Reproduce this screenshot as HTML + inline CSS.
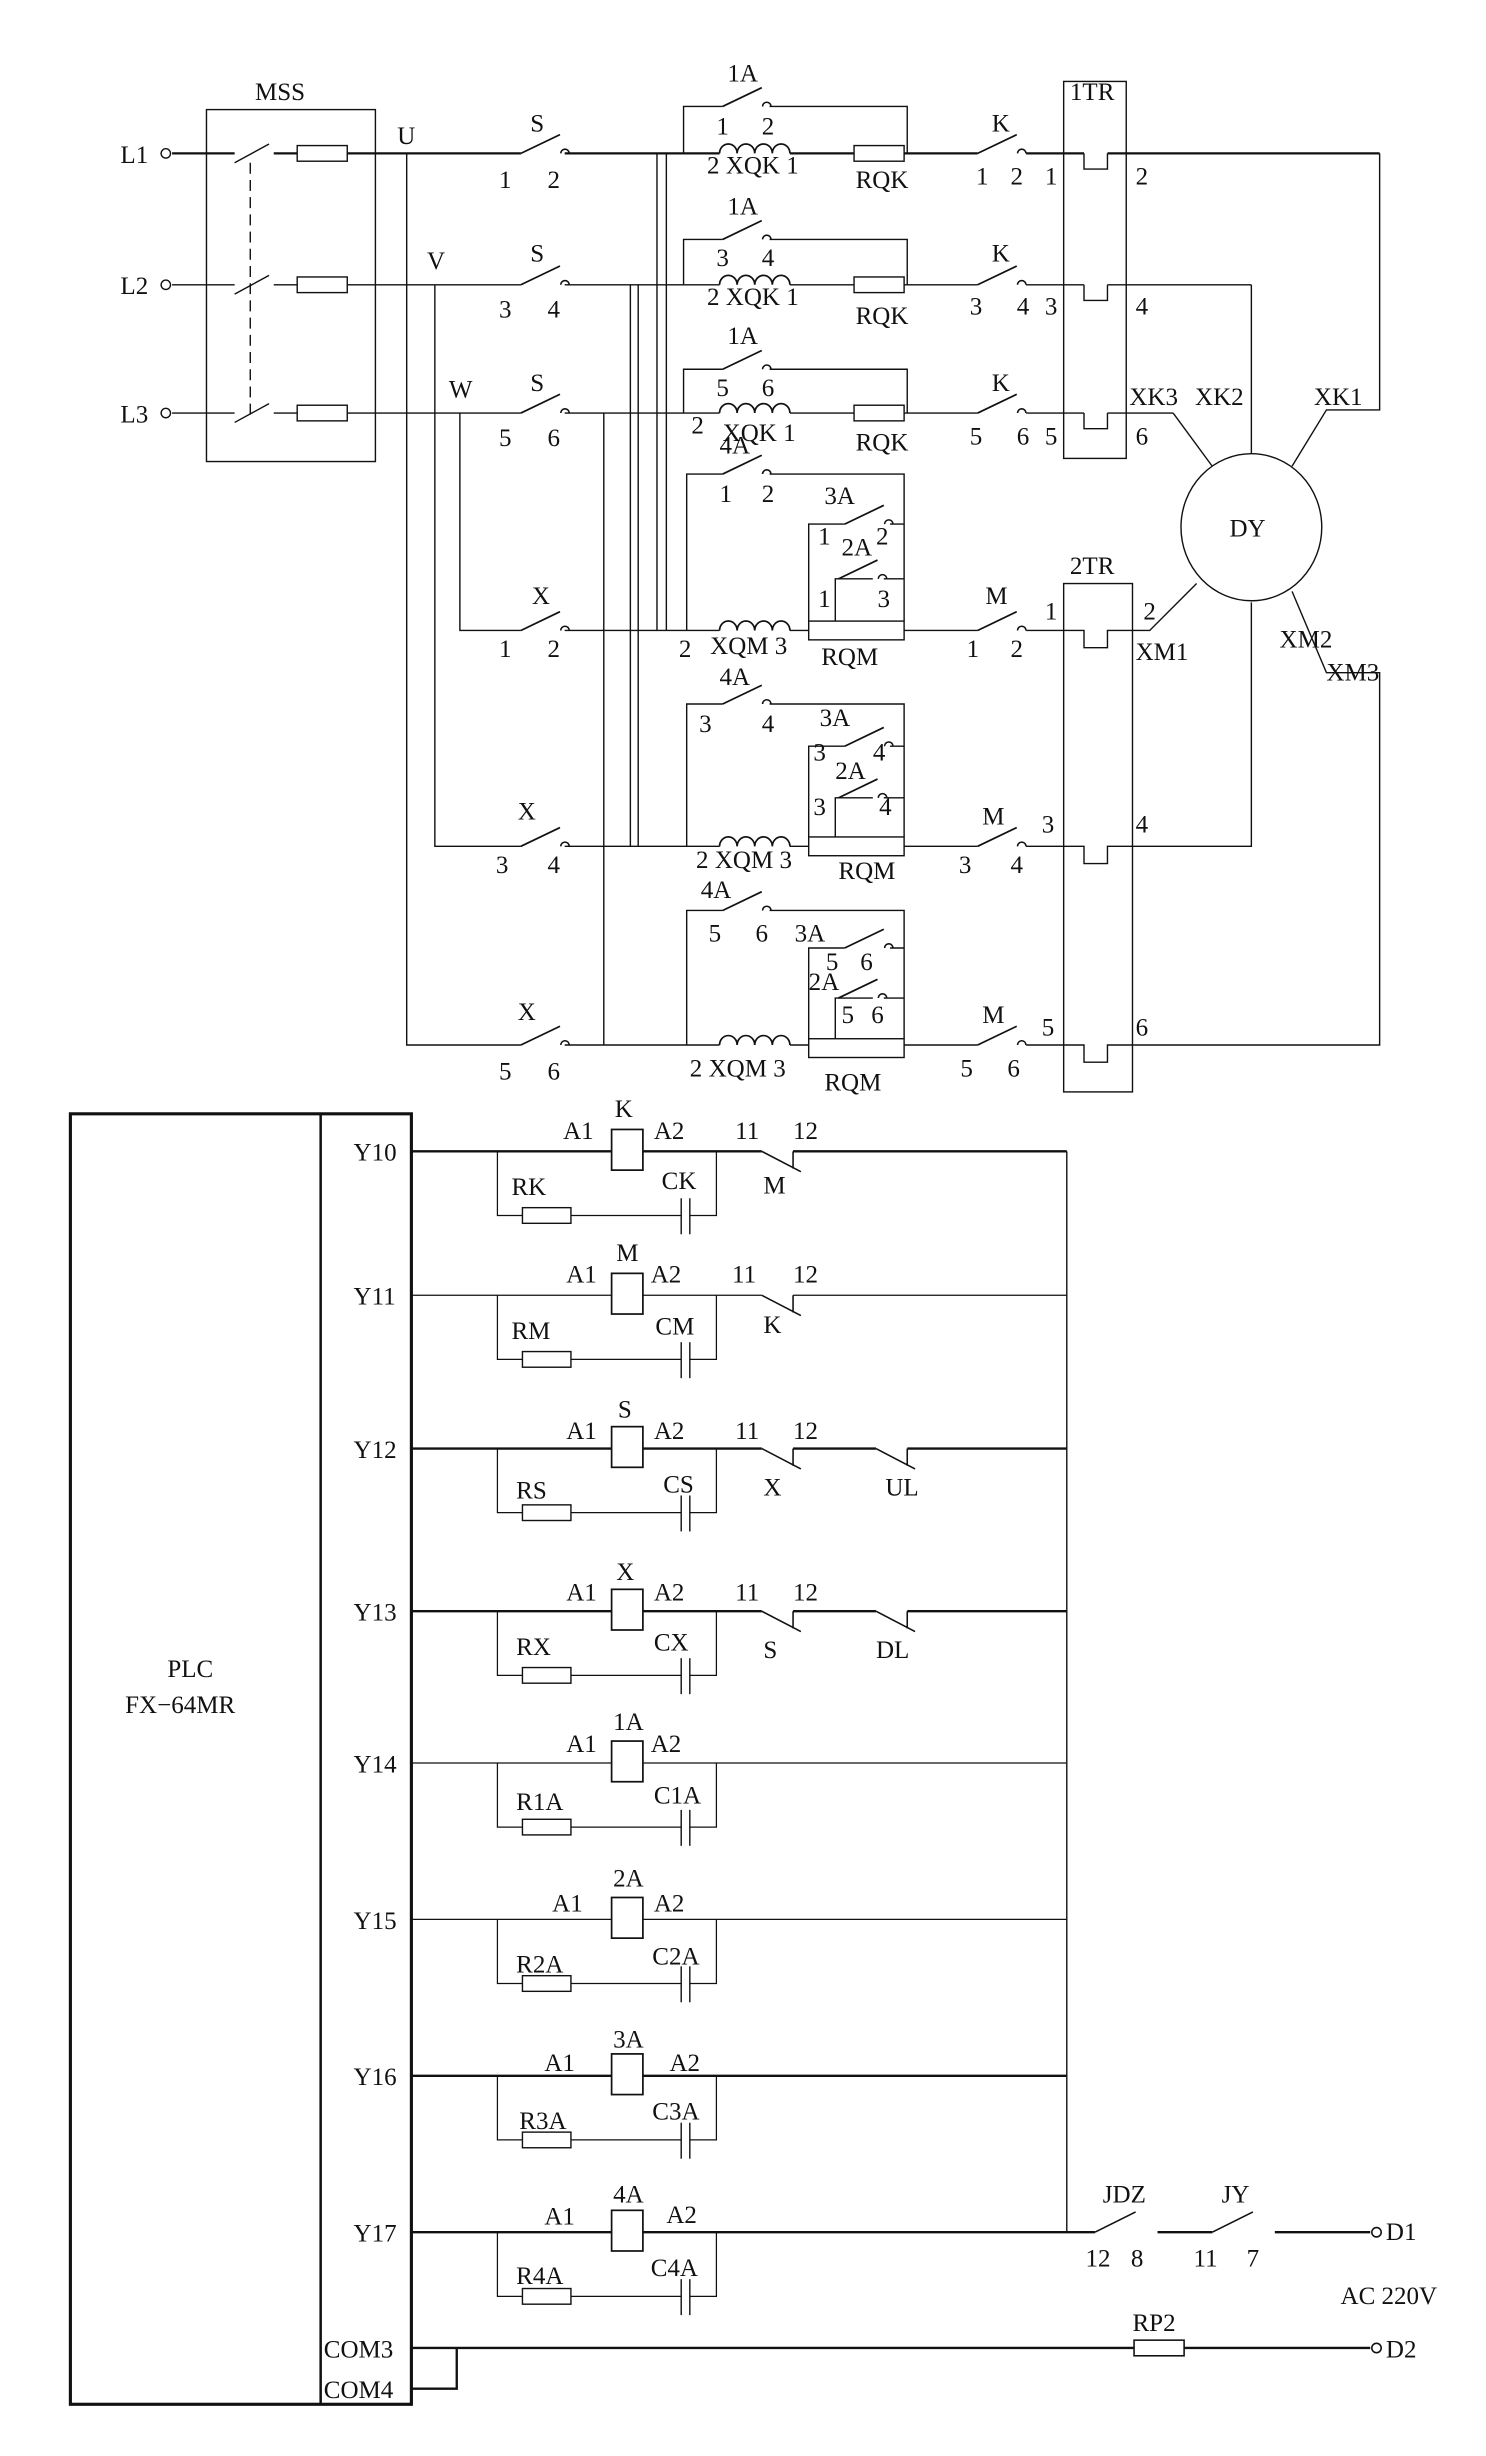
<!DOCTYPE html>
<html><head><meta charset="utf-8"><style>
html,body{margin:0;padding:0;background:#fff;}
svg{display:block;}
text{font-family:"Liberation Serif",serif;font-size:16px;fill:#111;}
</style></head><body>
<svg width="1486" height="2456" viewBox="0 0 950 1570" xmlns="http://www.w3.org/2000/svg">
<defs>
<g id="sw"><line x1="0" y1="0" x2="25" y2="-12" stroke="#111" stroke-width="1.1"/><path d="M25.5,0 a2.7,2.7 0 0 1 5.4,0" fill="none" stroke="#111" stroke-width="1"/></g>
<g id="coil"><path d="M0,0 a5.6,6 0 0 1 11.25,0 a5.6,6 0 0 1 11.25,0 a5.6,6 0 0 1 11.25,0 a5.6,6 0 0 1 11.25,0" fill="none" stroke="#111" stroke-width="1.1"/></g>
<g id="nc"><line x1="0" y1="0" x2="25" y2="13" stroke="#111" stroke-width="1"/><line x1="20" y1="0" x2="20" y2="11" stroke="#111" stroke-width="1"/></g>
<g id="rc"><path d="M318,0 V41 H334 M365,41 H435.5 M441,41 H458 V0" fill="none" stroke="#111" stroke-width="0.8"/><rect x="334" y="36" width="31" height="10" fill="#fff" stroke="#111" stroke-width="0.9"/><line x1="435.5" y1="30" x2="435.5" y2="53" stroke="#111" stroke-width="0.9"/><line x1="441" y1="30" x2="441" y2="53" stroke="#111" stroke-width="0.9"/><rect x="391" y="-14" width="20" height="26" fill="#fff" stroke="#111" stroke-width="1.1"/></g>
</defs>
<g fill="none" stroke="#111" stroke-width="0.9">
<rect x="132" y="70" width="108" height="225"/>
<line x1="160" y1="104" x2="160" y2="268" stroke-dasharray="7,4"/>
<g stroke-width="1.5"><line x1="110" y1="98" x2="150" y2="98"/><line x1="175" y1="98" x2="190" y2="98"/><line x1="222" y1="98" x2="333" y2="98"/><line x1="361" y1="98" x2="460" y2="98"/><line x1="505" y1="98" x2="546" y2="98"/><line x1="578" y1="98" x2="625" y2="98"/><line x1="656" y1="98" x2="693" y2="98"/><line x1="708" y1="98" x2="882" y2="98"/></g>
<line x1="110" y1="182" x2="150" y2="182"/><line x1="175" y1="182" x2="190" y2="182"/><line x1="222" y1="182" x2="333" y2="182"/><line x1="361" y1="182" x2="460" y2="182"/><line x1="505" y1="182" x2="546" y2="182"/><line x1="578" y1="182" x2="625" y2="182"/><line x1="656" y1="182" x2="693" y2="182"/><line x1="708" y1="182" x2="800" y2="182"/>
<line x1="110" y1="264" x2="150" y2="264"/><line x1="175" y1="264" x2="190" y2="264"/><line x1="222" y1="264" x2="333" y2="264"/><line x1="361" y1="264" x2="460" y2="264"/><line x1="505" y1="264" x2="546" y2="264"/><line x1="578" y1="264" x2="625" y2="264"/><line x1="656" y1="264" x2="693" y2="264"/><line x1="708" y1="264" x2="750" y2="264"/>
<circle cx="106" cy="98" r="3"/><circle cx="106" cy="182" r="3"/><circle cx="106" cy="264" r="3"/>
<line x1="150" y1="104" x2="172" y2="92"/><line x1="150" y1="188" x2="172" y2="176"/><line x1="150" y1="270" x2="172" y2="258"/>
<rect x="190" y="93" width="32" height="10"/><rect x="190" y="177" width="32" height="10"/><rect x="190" y="259" width="32" height="10"/>
<path d="M437,98 V68 H462 M492,68 H580 V98"/><path d="M437,182 V153 H462 M492,153 H580 V182"/><path d="M437,264 V236 H462 M492,236 H580 V264"/>
<rect x="546" y="93" width="32" height="10" fill="#fff"/><rect x="546" y="177" width="32" height="10" fill="#fff"/><rect x="546" y="259" width="32" height="10" fill="#fff"/>
<rect x="680" y="52" width="40" height="241"/>
<path d="M693,98 V108 H708 V98"/><path d="M693,182 V192 H708 V182"/><path d="M693,264 V274 H708 V264"/>
<ellipse cx="800" cy="337" rx="45" ry="47"/>
<path d="M882,98 V262 H848 L826,298"/><line x1="800" y1="182" x2="800" y2="290"/><path d="M750,264 L775,298"/>
<path d="M260,98 V668 H333"/><path d="M278,182 V541 H333"/><path d="M294,264 V403 H333"/>
<line x1="386" y1="264" x2="386" y2="668"/><line x1="403" y1="182" x2="403" y2="541"/><line x1="408" y1="182" x2="408" y2="541"/><line x1="420" y1="98" x2="420" y2="403"/><line x1="426" y1="98" x2="426" y2="403"/>
<path d="M361,403 H460 M505,403 H517 M578,403 H625 M656,403 H693 V414 H708 V403 H735 L765,373"/>
<path d="M439,403 V303 H462 M492,303 H578 V397"/>
<path d="M517,397 V335 H540 M569,335 H578"/>
<path d="M534,397 V370 H558 M565,370 H578"/>
<rect x="517" y="397" width="61" height="12" fill="#fff"/>
<path d="M361,541 H460 M505,541 H517 M578,541 H625 M656,541 H693 V552 H708 V541 H800 V385"/>
<path d="M439,541 V450 H462 M492,450 H578 V535"/>
<path d="M517,535 V477 H540 M569,477 H578"/>
<path d="M534,535 V510 H558 M565,510 H578"/>
<rect x="517" y="535" width="61" height="12" fill="#fff"/>
<path d="M361,668 H460 M505,668 H517 M578,668 H625 M656,668 H693 V679 H708 V668 H882 V430 H848 L826,378"/>
<path d="M439,668 V582 H462 M492,582 H578 V664"/>
<path d="M517,664 V606 H540 M569,606 H578"/>
<path d="M534,664 V638 H558 M565,638 H578"/>
<rect x="517" y="664" width="61" height="12" fill="#fff"/>
<rect x="680" y="373" width="44" height="325"/>
</g>
<g>
<use href="#sw" x="333" y="98"/><use href="#sw" x="333" y="182"/><use href="#sw" x="333" y="264"/>
<use href="#sw" x="462" y="68"/><use href="#sw" x="462" y="153"/><use href="#sw" x="462" y="236"/>
<use href="#sw" x="625" y="98"/><use href="#sw" x="625" y="182"/><use href="#sw" x="625" y="264"/>
<use href="#sw" x="333" y="403"/><use href="#sw" x="333" y="541"/><use href="#sw" x="333" y="668"/>
<use href="#sw" x="625" y="403"/><use href="#sw" x="625" y="541"/><use href="#sw" x="625" y="668"/>
<use href="#sw" x="462" y="303"/><use href="#sw" x="462" y="450"/><use href="#sw" x="462" y="582"/>
<use href="#sw" x="540" y="335"/><use href="#sw" x="540" y="477"/><use href="#sw" x="540" y="606"/>
<use href="#sw" x="536" y="370"/><use href="#sw" x="536" y="510"/><use href="#sw" x="536" y="638"/>
<use href="#coil" x="460" y="98"/><use href="#coil" x="460" y="182"/><use href="#coil" x="460" y="264"/>
<use href="#coil" x="460" y="403"/><use href="#coil" x="460" y="541"/><use href="#coil" x="460" y="668"/>
</g>
<text x="163" y="64">MSS</text><text x="684" y="64">1TR</text><text x="684" y="367">2TR</text>
<text x="77" y="104">L1</text><text x="77" y="188">L2</text><text x="77" y="270">L3</text>
<text x="254" y="92">U</text><text x="273" y="172">V</text><text x="287" y="254">W</text>
<text x="339" y="84">S</text><text x="319" y="120">1</text><text x="350" y="120">2</text>
<text x="339" y="167">S</text><text x="319" y="203">3</text><text x="350" y="203">4</text>
<text x="339" y="250">S</text><text x="319" y="285">5</text><text x="350" y="285">6</text>
<text x="465" y="52">1A</text><text x="458" y="86">1</text><text x="487" y="86">2</text><text x="452" y="111">2 XQK 1</text><text x="547" y="120">RQK</text>
<text x="465" y="137">1A</text><text x="458" y="170">3</text><text x="487" y="170">4</text><text x="452" y="195">2 XQK 1</text><text x="547" y="207">RQK</text>
<text x="465" y="220">1A</text><text x="458" y="253">5</text><text x="487" y="253">6</text><text x="442" y="277">2</text><text x="462" y="282">XQK 1</text><text x="547" y="288">RQK</text>
<text x="634" y="84">K</text><text x="624" y="118">1</text><text x="646" y="118">2</text><text x="668" y="118">1</text><text x="726" y="118">2</text>
<text x="634" y="167">K</text><text x="620" y="201">3</text><text x="650" y="201">4</text><text x="668" y="201">3</text><text x="726" y="201">4</text>
<text x="634" y="250">K</text><text x="620" y="284">5</text><text x="650" y="284">6</text><text x="668" y="284">5</text><text x="726" y="284">6</text>
<text x="722" y="259">XK3</text><text x="764" y="259">XK2</text><text x="840" y="259">XK1</text>
<text x="786" y="343">DY</text>
<text x="460" y="290">4A</text><text x="460" y="321">1</text><text x="487" y="321">2</text><text x="527" y="322">3A</text><text x="523" y="348">1</text><text x="538" y="355">2A</text><text x="560" y="348">2</text><text x="523" y="388">1</text><text x="561" y="388">3</text>
<text x="340" y="386">X</text><text x="319" y="420">1</text><text x="350" y="420">2</text><text x="434" y="420">2</text><text x="454" y="418">XQM 3</text><text x="525" y="425">RQM</text>
<text x="630" y="386">M</text><text x="618" y="420">1</text><text x="646" y="420">2</text><text x="668" y="396">1</text><text x="731" y="396">2</text><text x="726" y="422">XM1</text>
<text x="460" y="438">4A</text><text x="447" y="468">3</text><text x="487" y="468">4</text><text x="524" y="464">3A</text><text x="520" y="486">3</text><text x="534" y="498">2A</text><text x="558" y="486">4</text><text x="520" y="521">3</text><text x="562" y="521">4</text>
<text x="331" y="524">X</text><text x="317" y="558">3</text><text x="350" y="558">4</text><text x="445" y="555">2 XQM 3</text><text x="536" y="562">RQM</text>
<text x="628" y="527">M</text><text x="613" y="558">3</text><text x="646" y="558">4</text><text x="666" y="532">3</text><text x="726" y="532">4</text>
<text x="818" y="414">XM2</text><text x="848" y="435">XM3</text>
<text x="448" y="574">4A</text><text x="453" y="602">5</text><text x="483" y="602">6</text><text x="508" y="602">3A</text><text x="528" y="620">5</text><text x="550" y="620">6</text><text x="517" y="633">2A</text><text x="538" y="654">5</text><text x="557" y="654">6</text>
<text x="331" y="652">X</text><text x="319" y="690">5</text><text x="350" y="690">6</text><text x="441" y="688">2 XQM 3</text><text x="527" y="697">RQM</text>
<text x="628" y="654">M</text><text x="614" y="688">5</text><text x="644" y="688">6</text><text x="666" y="662">5</text><text x="726" y="662">6</text>
<g fill="none" stroke="#111">
<rect x="45" y="712" width="218" height="825" stroke-width="2"/>
<line x1="205" y1="712" x2="205" y2="1537" stroke-width="1.6"/>
<line x1="682" y1="736" x2="682" y2="1427" stroke-width="0.9"/>
<g stroke-width="1.5"><path d="M263,736 H487 M507,736 H682"/><path d="M263,926 H487 M507,926 H560 M580,926 H682"/><path d="M263,1030 H487 M507,1030 H560 M580,1030 H682"/><path d="M263,1327 H682"/><path d="M263,1427 H700 M740,1427 H775 M815,1427 H876"/><path d="M263,1501 H725 M757,1501 H876"/><path d="M263,1527 H292 V1501"/></g>
<g stroke-width="0.8"><path d="M263,828 H487 M507,828 H682"/><path d="M263,1127 H682"/><path d="M263,1227 H682"/></g>
<rect x="725" y="1496" width="32" height="10" stroke-width="1"/>
<circle cx="880" cy="1427" r="3"/><circle cx="880" cy="1501" r="3"/>
</g>
<use href="#rc" y="736"/><use href="#rc" y="828"/><use href="#rc" y="926"/><use href="#rc" y="1030"/><use href="#rc" y="1127"/><use href="#rc" y="1227"/><use href="#rc" y="1327"/><use href="#rc" y="1427"/>
<use href="#nc" x="487" y="736"/><use href="#nc" x="487" y="828"/><use href="#nc" x="487" y="926"/><use href="#nc" x="487" y="1030"/><use href="#nc" x="560" y="926"/><use href="#nc" x="560" y="1030"/>
<g transform="translate(700,1427)"><line x1="0" y1="0" x2="26" y2="-13" stroke="#111"/></g>
<g transform="translate(775,1427)"><line x1="0" y1="0" x2="26" y2="-13" stroke="#111"/></g>
<text x="107" y="1072">PLC</text><text x="80" y="1095">FX−64MR</text>
<text x="226" y="742">Y10</text><text x="226" y="834">Y11</text><text x="226" y="932">Y12</text><text x="226" y="1036">Y13</text><text x="226" y="1133">Y14</text><text x="226" y="1233">Y15</text><text x="226" y="1333">Y16</text><text x="226" y="1433">Y17</text>
<text x="207" y="1507">COM3</text><text x="207" y="1533">COM4</text>
<text x="360" y="728">A1</text><text x="393" y="714">K</text><text x="418" y="728">A2</text><text x="327" y="764">RK</text><text x="423" y="760">CK</text><text x="470" y="728">11</text><text x="507" y="728">12</text><text x="488" y="763">M</text>
<text x="362" y="820">A1</text><text x="394" y="806">M</text><text x="416" y="820">A2</text><text x="327" y="856">RM</text><text x="419" y="853">CM</text><text x="468" y="820">11</text><text x="507" y="820">12</text><text x="488" y="852">K</text>
<text x="362" y="920">A1</text><text x="395" y="906">S</text><text x="418" y="920">A2</text><text x="330" y="958">RS</text><text x="424" y="954">CS</text><text x="470" y="920">11</text><text x="507" y="920">12</text><text x="488" y="956">X</text><text x="566" y="956">UL</text>
<text x="362" y="1023">A1</text><text x="394" y="1010">X</text><text x="418" y="1023">A2</text><text x="330" y="1058">RX</text><text x="418" y="1055">CX</text><text x="470" y="1023">11</text><text x="507" y="1023">12</text><text x="488" y="1060">S</text><text x="560" y="1060">DL</text>
<text x="362" y="1120">A1</text><text x="392" y="1106">1A</text><text x="416" y="1120">A2</text><text x="330" y="1157">R1A</text><text x="418" y="1153">C1A</text>
<text x="353" y="1222">A1</text><text x="392" y="1206">2A</text><text x="418" y="1222">A2</text><text x="330" y="1261">R2A</text><text x="417" y="1256">C2A</text>
<text x="348" y="1324">A1</text><text x="392" y="1309">3A</text><text x="428" y="1324">A2</text><text x="332" y="1361">R3A</text><text x="417" y="1355">C3A</text>
<text x="348" y="1422">A1</text><text x="392" y="1408">4A</text><text x="426" y="1421">A2</text><text x="330" y="1460">R4A</text><text x="416" y="1455">C4A</text>
<text x="705" y="1408">JDZ</text><text x="781" y="1408">JY</text><text x="694" y="1449">12</text><text x="723" y="1449">8</text><text x="763" y="1449">11</text><text x="797" y="1449">7</text>
<text x="886" y="1432">D1</text><text x="886" y="1507">D2</text><text x="857" y="1473">AC  220V</text><text x="724" y="1490">RP2</text>
</svg>
</body></html>
